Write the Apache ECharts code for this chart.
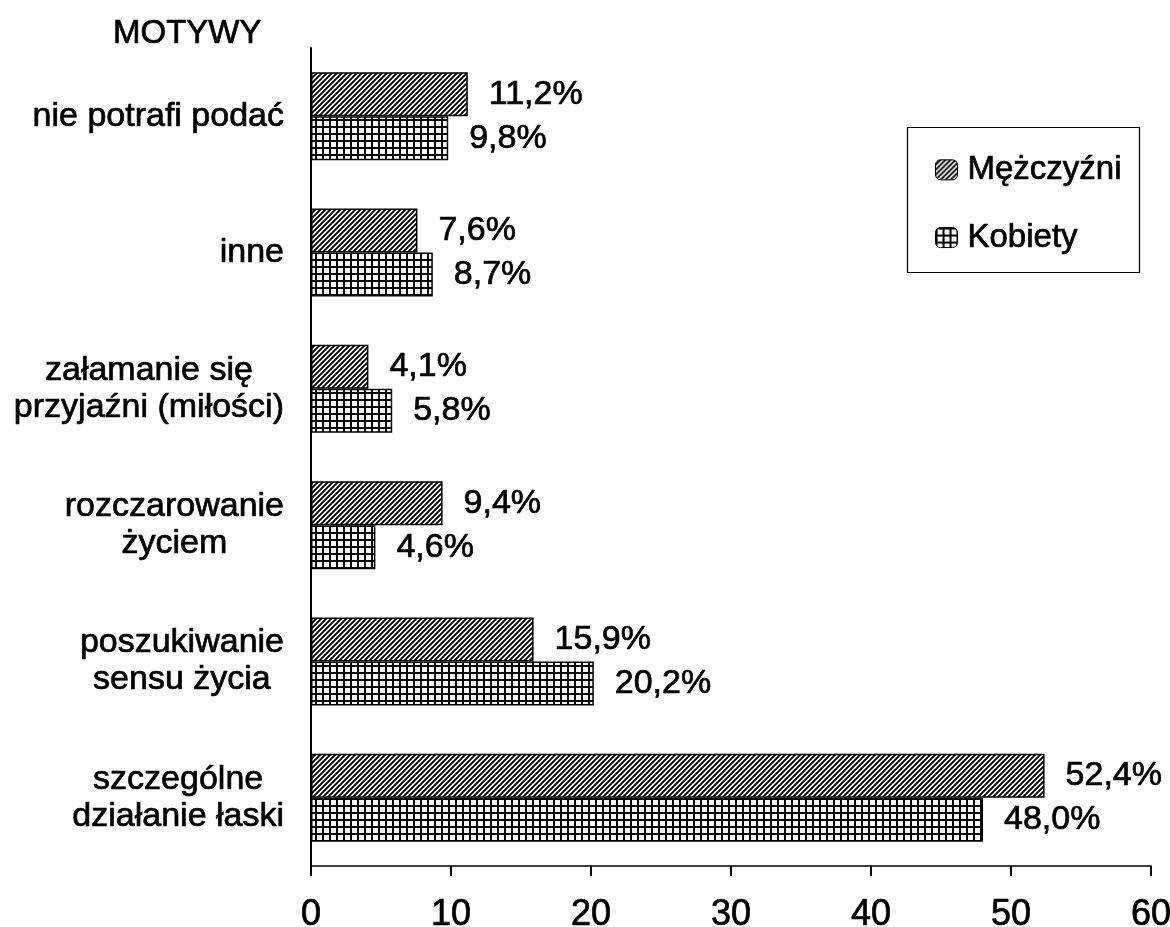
<!DOCTYPE html>
<html>
<head>
<meta charset="utf-8">
<script src="https://cdn.jsdelivr.net/npm/echarts@6/dist/echarts.min.js"></script>
<style>
html,body{margin:0;padding:0;background:#fff;}
#chart{width:1170px;height:927px;}
</style>
</head>
<body>
<div id="chart"></div>
<script>
// Data (bottom to top, as the category axis runs)
const categories = [
  'szczególne\ndziałanie łaski',
  'poszukiwanie\nsensu życia',
  'rozczarowanie\nżyciem',
  'załamanie się\nprzyjaźni (miłości)',
  'inne',
  'nie potrafi podać'
];
const seriesNames = ['Mężczyźni', 'Kobiety'];
const menValues = [52.4, 15.9, 9.4, 4.1, 7.6, 11.2];
const womenValues = [48.0, 20.2, 4.6, 5.8, 8.7, 9.8];
const xTicks = [0, 10, 20, 30, 40, 50, 60];
const axisTitle = 'MOTYWY';

const FONT = "'Liberation Sans', Arial, sans-serif";
const INK = { textBorderColor: '#000', textBorderWidth: 0.7 };

function hatchPattern() {
  const s = 5;
  const c = document.createElement('canvas');
  c.width = s; c.height = s;
  const g = c.getContext('2d');
  g.fillStyle = '#fff'; g.fillRect(0, 0, s, s);
  g.strokeStyle = '#000'; g.lineWidth = 1.9;
  g.beginPath();
  g.moveTo(-1, s + 1); g.lineTo(s + 1, -1);
  g.moveTo(-1, 1); g.lineTo(1, -1);
  g.moveTo(s - 1, s + 1); g.lineTo(s + 1, s - 1);
  g.stroke();
  return c;
}
function gridPattern() {
  const w = 7, h = 7;
  const c = document.createElement('canvas');
  c.width = w; c.height = h;
  const g = c.getContext('2d');
  g.fillStyle = '#fff'; g.fillRect(0, 0, w, h);
  g.fillStyle = '#000';
  g.fillRect(0, 0, w, 2);
  g.fillRect(0, 0, 2, h);
  return c;
}
const hatch = { image: hatchPattern(), repeat: 'repeat' };
const grid = { image: gridPattern(), repeat: 'repeat' };

function fmt(v) { return v.toFixed(1).replace('.', ',') + '%'; }

const labelStyle = Object.assign({ fontFamily: FONT, fontSize: 34, color: '#000' }, INK);

const chart = echarts.init(document.getElementById('chart'), null, { renderer: 'canvas' });
chart.setOption({
  backgroundColor: '#fff',
  animation: false,
  textStyle: { fontFamily: FONT, color: '#000' },
  title: {
    text: axisTitle,
    left: 108, top: 12,
    textStyle: Object.assign({ fontFamily: FONT, fontSize: 33, fontWeight: 'normal', color: '#000' }, INK)
  },
  grid: { left: 311, right: 19, top: 48, bottom: 61, containLabel: false, outerBoundsMode: 'none' },
  legend: {
    orient: 'vertical',
    left: 930, top: 148,
    itemWidth: 22, itemHeight: 20,
    itemGap: 34,
    data: seriesNames,
    itemStyle: { borderColor: '#000', borderWidth: 1 },
    textStyle: Object.assign({ fontFamily: FONT, fontSize: 33, color: '#000', padding: [0, 0, 0, 5] }, INK)
  },
  graphic: [{
    type: 'rect',
    shape: { x: 907.5, y: 127.5, width: 232, height: 145 },
    style: { fill: 'none', stroke: '#000', lineWidth: 1.2 },
    z: 1
  }],
  xAxis: {
    type: 'value',
    min: xTicks[0], max: xTicks[xTicks.length - 1], interval: 10,
    axisLine: { show: true, lineStyle: { color: '#000', width: 1.5 } },
    axisTick: { show: true, length: 10, lineStyle: { color: '#000', width: 2 } },
    splitLine: { show: false },
    axisLabel: Object.assign({ fontFamily: FONT, fontSize: 36, color: '#000', margin: 31 }, INK)
  },
  yAxis: {
    type: 'category',
    data: categories,
    axisLine: { show: true, lineStyle: { color: '#000', width: 2 } },
    axisTick: { show: false },
    splitLine: { show: false },
    axisLabel: {
      margin: 27,
      color: '#000',
      formatter: function (v) {
        return v.split('\n').map(function (l) { return '{c|' + l + '}'; }).join('\n');
      },
      rich: {
        c: Object.assign({ fontFamily: FONT, fontSize: 34, color: '#000', align: 'center', lineHeight: 37 }, INK)
      }
    }
  },
  series: [
    {
      name: seriesNames[0], type: 'bar', data: menValues,
      barWidth: 44, barGap: '0%',
      itemStyle: { color: hatch, borderColor: '#000', borderWidth: 1.5 },
      label: Object.assign({ show: true, position: 'right', distance: 21, formatter: function (p) { return fmt(p.value); } }, labelStyle)
    },
    {
      name: seriesNames[1], type: 'bar', data: womenValues,
      barWidth: 44, barGap: '0%',
      itemStyle: { color: grid, borderColor: '#000', borderWidth: 1.5 },
      label: Object.assign({ show: true, position: 'right', distance: 21, formatter: function (p) { return fmt(p.value); } }, labelStyle)
    }
  ]
});
</script>
</body>
</html>
